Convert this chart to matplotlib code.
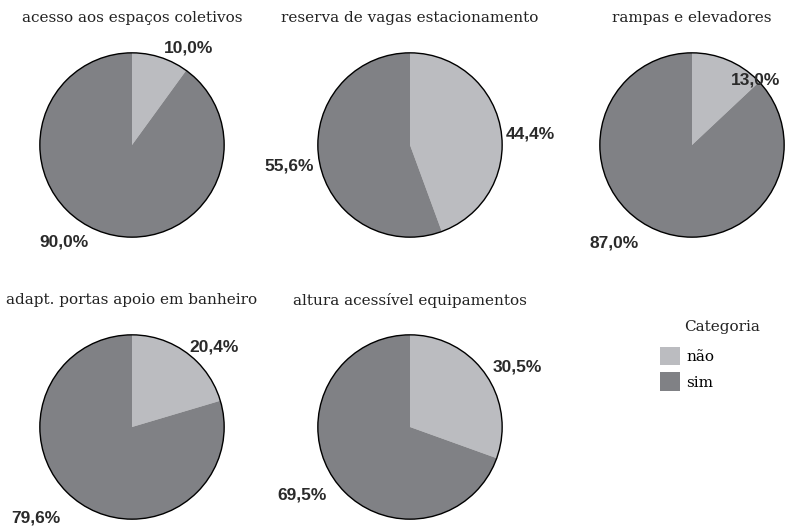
import matplotlib
matplotlib.use("Agg")
import matplotlib.pyplot as plt
from matplotlib.patches import Circle, Patch
import numpy as np

titles = ["acesso aos espaços coletivos", "reserva de vagas estacionamento",
          "rampas e elevadores", "adapt. portas apoio em banheiro",
          "altura acessível equipamentos"]
nao = [10.0, 44.4, 13.0, 20.4, 30.5]
sim = [90.0, 55.6, 87.0, 79.6, 69.5]
categories = ["não", "sim"]
colors = ["#bbbcc0", "#808185"]

W, H = 785, 528
fig = plt.figure(figsize=(W / 100, H / 100), dpi=100)

centers = [(132, 145), (410, 145), (692, 145), (132, 427), (410, 427)]
R = 94
# label placement tweaks (angle offset in degrees, distance in radii) for [não, sim]
label_adj = [[(-12, 1.22), (-17, 1.29)],
             [(-5, 1.31), (0, 1.33)],
             [(-21, 0.98), (-15, 1.36)],
             [(-9, 1.25), (-10, 1.44)],
             [(-6, 1.33), (-3, 1.38)]]

for i, (cx, cy) in enumerate(centers):
    ax = fig.add_axes([(cx - R) / W, 1 - (cy + R) / H, 2 * R / W, 2 * R / H])
    vals = [nao[i], sim[i]]
    ax.pie(vals, colors=colors, startangle=90, counterclock=False, radius=1,
           wedgeprops=dict(edgecolor="none", linewidth=0))
    ax.add_patch(Circle((0, 0), 1, fill=False, edgecolor="black", linewidth=1.0))
    ax.set_xlim(-1.02, 1.02)
    ax.set_ylim(-1.02, 1.02)
    ax.set_aspect("equal")
    ax.axis("off")
    start = 90.0
    for j, v in enumerate(vals):
        span = 360 * v / 100.0
        mid = start - span / 2
        start -= span
        da, dist = label_adj[i][j]
        a = np.deg2rad(mid + da)
        ax.text(dist * np.cos(a), dist * np.sin(a), f"{v:.1f}%".replace(".", ","),
                ha="center", va="center", fontsize=12.5, fontweight="bold",
                family="Liberation Sans", color="#2a2a2a", clip_on=False)
    fig.text(cx / W, 1 - (18 if cy < 300 else 300) / H, titles[i], ha="center",
             va="center", fontsize=11, family="DejaVu Serif", color="#222222")

fig.text(722 / W, 1 - 327 / H, "Categoria", ha="center", va="center",
         fontsize=11, family="DejaVu Serif", color="#222222")
handles = [Patch(facecolor=c, edgecolor="none") for c in colors]
leg = fig.legend(handles, categories, loc="upper left",
                 bbox_to_anchor=(646 / W, 1 - 333 / H), frameon=False,
                 prop={"family": "DejaVu Serif", "size": 11},
                 handlelength=1.35, handleheight=1.5, handletextpad=0.4,
                 labelspacing=0.45)

fig.savefig("out.png", dpi=100, facecolor="white")
